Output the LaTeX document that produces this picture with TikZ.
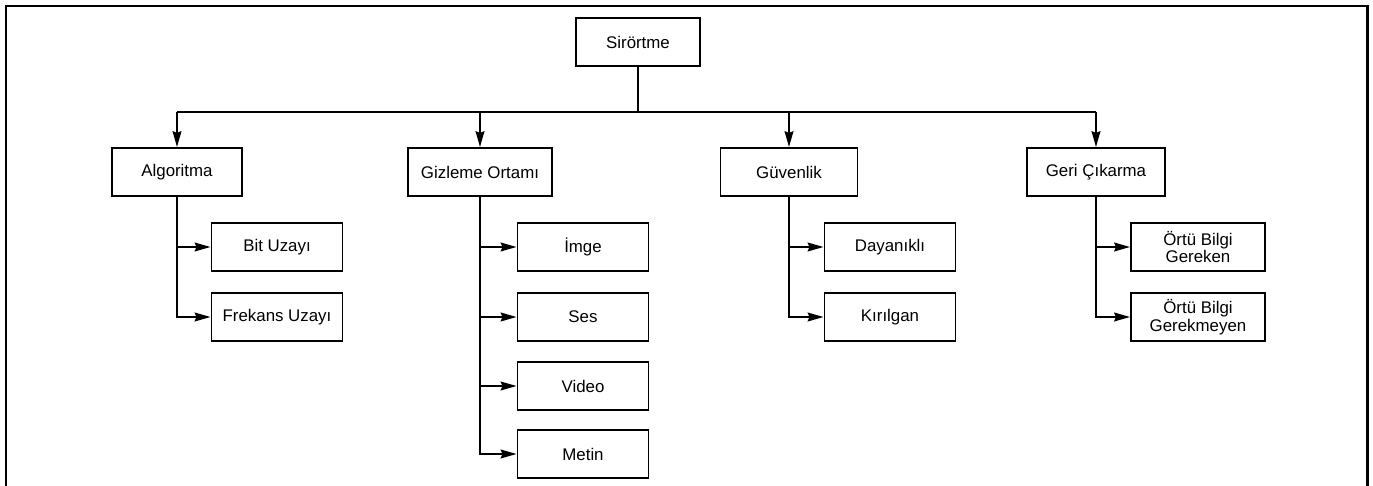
\documentclass[tikz,border=0pt]{standalone}
\usepackage{fontspec}
\setmainfont{Liberation Sans}
\usetikzlibrary{arrows.meta}
\begin{document}
\begin{tikzpicture}
[x=0.02cm,y=-0.02cm,
  boxdecorate/.style={shape=rectangle,draw,line width=1.1pt,minimum height=0.96cm,
    inner sep=1pt,align=center,font=\fontsize{9.6}{10.2}\selectfont},%
  linedecorate/.style={line width=1.1pt},%
  arrowdecorate/.style={-{Stealth[length=9pt,width=5pt,inset=1pt]},line width=1.1pt},%
  elbow/.style={to path={|- (\tikztotarget)}}]
\useasboundingbox (0,0) rectangle (1373,486);
%% frame
\draw[line width=1.7pt] (6,486) -- (6,6) -- (1367,6) -- (1367,486);
%% nodes or boxes
\foreach \nodename/\x/\y/\boxwidth/\boxtext in {root/638/42/124/Sirörtme,
  alg/177/172/130/Algoritma, giz/480/172/144/Gizleme Ortamı,
  guv/789/172/137/Güvenlik, geri/1096/172/138/Geri Çıkarma,
  bit/277/247/131/Bit Uzayı, frek/277/317/131/Frekans Uzayı,
  imge/583/247/131/İmge, ses/583/317/131/Ses,
  video/583/386/131/Video, metin/583/454/131/Metin,
  day/890/247/131/Dayanıklı, kir/890/317/131/Kırılgan,
  ortu/1198/247/134/{Örtü Bilgi\\Gereken},
  ortuz/1198/317/134/{Örtü Bilgi\\Gerekmeyen}} {
  \node (\nodename) at (\x,\y) [boxdecorate,minimum width=\boxwidth*0.02cm] {\boxtext};
}
%% edges or lines
\coordinate (bus) at (638,112);
\draw[linedecorate] (root) -- (bus);
\draw[linedecorate] (bus -| alg) -- (bus -| geri);
\path
\foreach \endnode in {alg, giz, guv, geri} {
  (bus -| \endnode) edge[arrowdecorate] (\endnode)
}
\foreach \startnode/\endnode in {alg/bit, alg/frek, giz/imge, giz/ses,
  giz/video, giz/metin, guv/day, guv/kir, geri/ortu, geri/ortuz} {
  (\startnode.south) edge[arrowdecorate,elbow] (\endnode)
};
\end{tikzpicture}
\end{document}
